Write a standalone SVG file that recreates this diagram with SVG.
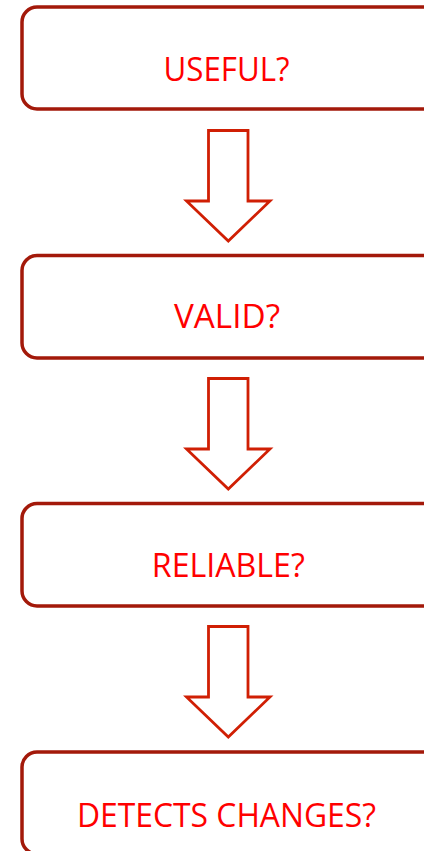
<svg xmlns="http://www.w3.org/2000/svg" width="424" height="851" viewBox="0 0 424 851">
<defs>
<style>
.box{fill:#ffffff;stroke:#a3190a;stroke-width:3.5}
.arrow{fill:#ffffff;stroke:#d01f04;stroke-width:2.8;stroke-linejoin:miter}
.lbl{font-family:"Open Sans","Noto Sans","Liberation Sans",sans-serif;font-size:33px;fill:#ff0000;text-anchor:middle}
</style>
</defs>
<rect width="424" height="851" fill="#ffffff"/>
<g id="connectors">
<path class="arrow" d="M208.5,130.5 H248 V201 H270 L228.3,241 L186.5,201 H208.5 Z"/>
<path class="arrow" d="M208.5,378.5 H248 V449 H270 L228.3,489 L186.5,449 H208.5 Z"/>
<path class="arrow" d="M208.5,626.5 H248 V697 H270 L228.3,737 L186.5,697 H208.5 Z"/>
</g>
<g id="node-useful">
<rect class="box" x="22" y="7" width="440" height="102" rx="15" ry="15"/>
<text class="lbl" x="226.5" y="81" textLength="126" lengthAdjust="spacingAndGlyphs">USEFUL?</text>
</g>
<g id="node-valid">
<rect class="box" x="22" y="255.5" width="440" height="102.5" rx="15" ry="15"/>
<text class="lbl" x="227" y="328.3" textLength="106" lengthAdjust="spacingAndGlyphs">VALID?</text>
</g>
<g id="node-reliable">
<rect class="box" x="22" y="503.5" width="440" height="102.5" rx="15" ry="15"/>
<text class="lbl" x="228.3" y="576.7" textLength="153" lengthAdjust="spacingAndGlyphs">RELIABLE?</text>
</g>
<g id="node-detects">
<rect class="box" x="22" y="752" width="440" height="102" rx="15" ry="15"/>
<text class="lbl" x="226.5" y="826.5" textLength="299" lengthAdjust="spacingAndGlyphs">DETECTS CHANGES?</text>
</g>
</svg>
